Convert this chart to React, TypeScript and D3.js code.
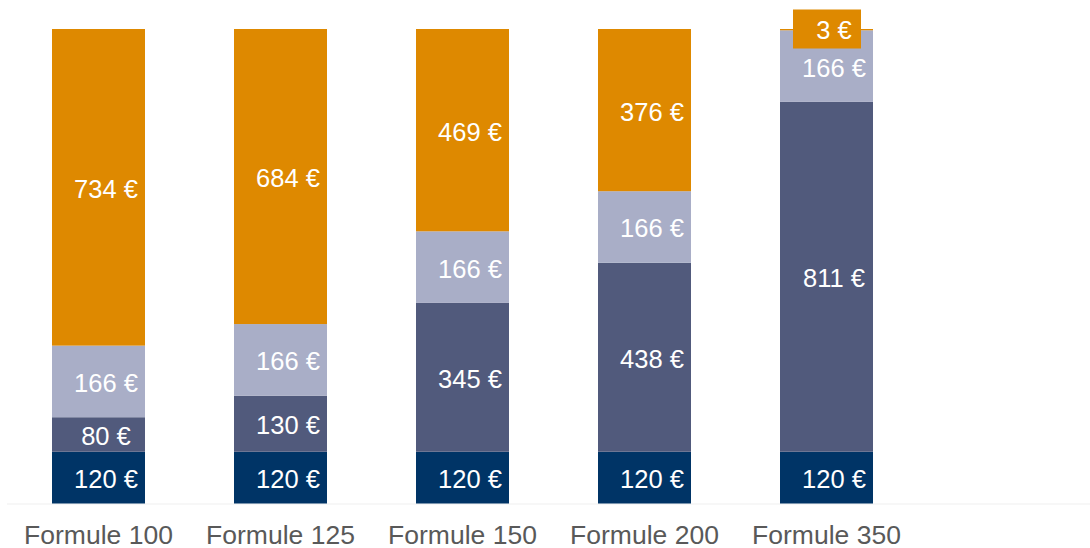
import React from "react";
import * as d3 from "d3";

const categories = ["Formule 100", "Formule 125", "Formule 150", "Formule 200", "Formule 350"];
const seriesBase = [120, 120, 120, 120, 120];
const seriesSecond = [80, 130, 345, 438, 811];
const seriesThird = [166, 166, 166, 166, 166];
const seriesTop = [734, 684, 469, 376, 3];
const seriesColors = ["#003466", "#515a7c", "#a9aec7", "#de8900"];
const yMax = 1100;

const W = 1090;
const H = 548;

export default function App() {
  const x = d3
    .scaleBand<string>()
    .domain(categories)
    .range([7.5, 917.5])
    .paddingInner(0.489)
    .paddingOuter(0.2445);
  const y = d3.scaleLinear().domain([0, yMax]).range([503.5, 29]);

  const data = categories.map((c, i) => ({
    cat: c,
    s0: seriesBase[i],
    s1: seriesSecond[i],
    s2: seriesThird[i],
    s3: seriesTop[i],
  }));
  const stack = d3.stack<any>().keys(["s0", "s1", "s2", "s3"]);
  const layers = stack(data);
  const font = "'Liberation Sans', Arial, sans-serif";

  return (
    <svg
      width={W}
      height={H}
      style={{ position: "absolute", left: 0, top: 0, background: "#fff" }}
      fontFamily={font}
    >
      <line x1={7} x2={W} y1={504} y2={504} stroke="#efefef" strokeWidth={1.2} />
      {layers.map((layer, li) => (
        <g key={li}>
          {layer.map((d, i) => {
            const x0 = x(categories[i])!;
            const bw = x.bandwidth();
            const y0 = y(d[1]);
            const y1 = y(d[0]);
            const v = d[1] - d[0];
            const small = y1 - y0 < 30;
            const cx = x0 + bw / 2;
            const cy = (y0 + y1) / 2;
            return (
              <g key={i}>
                <rect x={x0} y={y0} width={bw} height={y1 - y0} fill={seriesColors[li]} />
                {small ? (
                  <g>
                    <rect x={cx - 33.5} y={y0 - 19.5} width={68} height={39} fill={seriesColors[li]} />
                    <text x={cx + 7.5} y={y0 + 10} textAnchor="middle" fill="#fff" fontSize={25.5}>
                      {`${v} €`}
                    </text>
                  </g>
                ) : (
                  <text x={cx + 7.5} y={cy + 10.5} textAnchor="middle" fill="#fff" fontSize={25.5}>
                    {`${v} €`}
                  </text>
                )}
              </g>
            );
          })}
        </g>
      ))}
      {categories.map((c) => (
        <text
          key={c}
          x={x(c)! + x.bandwidth() / 2}
          y={543.5}
          textAnchor="middle"
          fill="#595959"
          fontSize={26.5}
        >
          {c}
        </text>
      ))}
    </svg>
  );
}
